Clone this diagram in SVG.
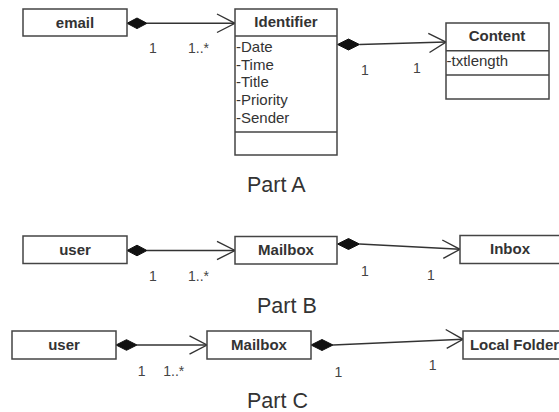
<svg xmlns="http://www.w3.org/2000/svg" width="559" height="412" viewBox="0 0 559 412">
<style>
  .box { fill: #ffffff; stroke: #444444; stroke-width: 1.5; }
  .div { stroke: #444444; stroke-width: 1.5; fill: none; }
  .name { font-family: "Liberation Sans", Arial, sans-serif; font-size: 15px; font-weight: bold; fill: #333333; text-anchor: middle; }
  .attr { font-family: "Liberation Sans", Arial, sans-serif; font-size: 15px; fill: #333333; }
  .mult { font-family: "Liberation Sans", Arial, sans-serif; font-size: 14px; fill: #444444; }
  .mid { text-anchor: middle; }
  .part { font-family: "Liberation Sans", Arial, sans-serif; font-size: 21.5px; fill: #333333; }
  .conn { stroke: #333333; stroke-width: 1.4; fill: none; }
  .dia { fill: #111111; stroke: #111111; stroke-width: 1; }
</style>

<g id="connectors">
  <!-- Part A: email -> Identifier -->
  <polygon class="dia" points="127,23.3 137,18 147,23.3 137,28.6"/>
  <line class="conn" x1="147" y1="23.3" x2="235" y2="23.3"/>
  <polyline class="conn" points="217,14 235,23.3 217,32.5"/>
  <!-- Part A: Identifier -> Content -->
  <polygon class="dia" points="337.5,44.5 348.5,39 359.5,44.5 348.5,50"/>
  <line class="conn" x1="359.5" y1="44.5" x2="446" y2="42"/>
  <polyline class="conn" points="428.3,33.3 446,42 429.5,52.5"/>
  <!-- Part B: user -> Mailbox -->
  <polygon class="dia" points="127,250.5 137,245.2 147,250.5 137,255.8"/>
  <line class="conn" x1="147" y1="250.5" x2="235" y2="250.5"/>
  <polyline class="conn" points="217,241.3 235,250.5 217,259.7"/>
  <!-- Part B: Mailbox -> Inbox -->
  <polygon class="dia" points="337.5,244 348.5,238.5 359.5,244 348.5,249.5"/>
  <line class="conn" x1="359.5" y1="244" x2="460" y2="249.3"/>
  <polyline class="conn" points="442.3,240 460,249.3 443.3,258.3"/>
  <!-- Part C: user -> Mailbox -->
  <polygon class="dia" points="116,345 126.5,339.7 137,345 126.5,350.3"/>
  <line class="conn" x1="137" y1="345" x2="207" y2="345"/>
  <polyline class="conn" points="189.5,335.8 207,345 189.5,354.2"/>
  <!-- Part C: Mailbox -> Local Folder -->
  <polygon class="dia" points="311,345 322,339.5 333,345 322,350.5"/>
  <line class="conn" x1="333" y1="345" x2="463" y2="339.3"/>
  <polyline class="conn" points="445.7,329.5 463,339.3 446.7,348.3"/>
</g>

<g id="email">
  <rect class="box" x="23" y="9" width="104" height="27"/>
  <text class="name" x="75" y="28">email</text>
</g>

<g id="identifier">
  <rect class="box" x="235" y="9" width="102" height="146"/>
  <line class="div" x1="235" y1="36" x2="337" y2="36"/>
  <line class="div" x1="235" y1="132" x2="337" y2="132"/>
  <text class="name" x="286" y="27">Identifier</text>
  <text class="attr" x="236" y="51.5">-Date</text>
  <text class="attr" x="236" y="69.5">-Time</text>
  <text class="attr" x="236" y="87">-Title</text>
  <text class="attr" x="236" y="104.8">-Priority</text>
  <text class="attr" x="236" y="122.6">-Sender</text>
</g>

<g id="content">
  <rect class="box" x="446" y="23" width="103" height="76"/>
  <line class="div" x1="446" y1="50.7" x2="549" y2="50.7"/>
  <line class="div" x1="446" y1="75" x2="549" y2="75"/>
  <text class="name" x="497" y="40.5">Content</text>
  <text class="attr" x="446.5" y="66">-txtlength</text>
</g>

<g id="labels-a">
  <text class="mult mid" x="153" y="52.5">1</text>
  <text class="mult" x="188" y="52.5">1..*</text>
  <text class="mult mid" x="365" y="75">1</text>
  <text class="mult mid" x="417" y="73">1</text>
  <text class="part" x="247" y="192">Part A</text>
</g>

<g id="user-b">
  <rect class="box" x="23" y="236" width="104" height="27.5"/>
  <text class="name" x="75" y="254.5">user</text>
</g>

<g id="mailbox-b">
  <rect class="box" x="235" y="236.5" width="102" height="27.5"/>
  <text class="name" x="286" y="254.5">Mailbox</text>
</g>

<g id="inbox">
  <rect class="box" x="460" y="235.5" width="101" height="28"/>
  <text class="name" x="510" y="254">Inbox</text>
</g>

<g id="labels-b">
  <text class="mult mid" x="153" y="281">1</text>
  <text class="mult" x="188" y="281">1..*</text>
  <text class="mult mid" x="365" y="276">1</text>
  <text class="mult mid" x="431" y="280">1</text>
  <text class="part" x="257" y="313.3">Part B</text>
</g>

<g id="user-c">
  <rect class="box" x="12" y="331" width="104" height="28"/>
  <text class="name" x="64" y="350">user</text>
</g>

<g id="mailbox-c">
  <rect class="box" x="207" y="331" width="104" height="28"/>
  <text class="name" x="259" y="349.5">Mailbox</text>
</g>

<g id="local-folder">
  <rect class="box" x="463" y="331" width="104" height="28"/>
  <text class="name" x="514.5" y="350">Local Folder</text>
</g>

<g id="labels-c">
  <text class="mult mid" x="141.7" y="376">1</text>
  <text class="mult" x="163.3" y="376">1..*</text>
  <text class="mult mid" x="338.3" y="376.5">1</text>
  <text class="mult mid" x="432.7" y="370">1</text>
  <text class="part" x="247" y="407.7">Part C</text>
</g>
</svg>
